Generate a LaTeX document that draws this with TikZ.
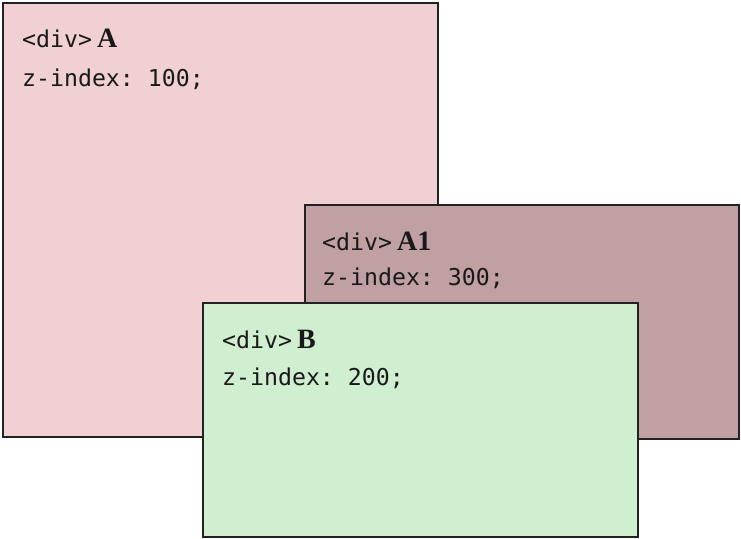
\documentclass[tikz,border=0pt]{standalone}
\usepackage{fontspec}
\setmainfont{Liberation Serif}
\setmonofont{DejaVu Sans Mono}
\definecolor{pinkA}{HTML}{F0D0D2}
\definecolor{mauveA}{HTML}{C0A0A2}
\definecolor{greenB}{HTML}{D0EFD0}
\definecolor{edge}{HTML}{222222}
\tikzset{
  divbox/.style={draw=edge, line width=1.4pt, anchor=north west, inner sep=0pt, outer sep=0pt},
  codetext/.style={anchor=base west, inner sep=0pt, font=\fontsize{23.2}{26}\selectfont\ttfamily, text=black!90},
  titletext/.style={anchor=base west, inner sep=0pt, text=black!90}
}
\newcommand{\divtitle}[1]{{\fontsize{23.2}{26}\selectfont\ttfamily <div>}\hspace{5pt}{\fontsize{28}{30}\selectfont\bfseries #1}}
\begin{document}
\begin{tikzpicture}[x=1pt,y=-1pt]
\useasboundingbox (0,0) rectangle (741,538);
\fill[white] (0,0) rectangle (741,538);
\node[divbox, fill=pinkA, minimum width=435pt, minimum height=434pt] (boxA) at (3,3) {};
\node[titletext] (titleA) at (22,47) {\divtitle{A}};
\node[codetext] (zA) at (22,86) {z-index: 100;};
\node[divbox, fill=mauveA, minimum width=434pt, minimum height=234pt] (boxA1) at (305,205) {};
\node[titletext] (titleA1) at (322,250) {\divtitle{A1}};
\node[codetext] (zA1) at (322,285) {z-index: 300;};
\node[divbox, fill=greenB, minimum width=435pt, minimum height=234pt] (boxB) at (203,303) {};
\node[titletext] (titleB) at (222,348) {\divtitle{B}};
\node[codetext] (zB) at (222,385) {z-index: 200;};
\end{tikzpicture}
\end{document}
